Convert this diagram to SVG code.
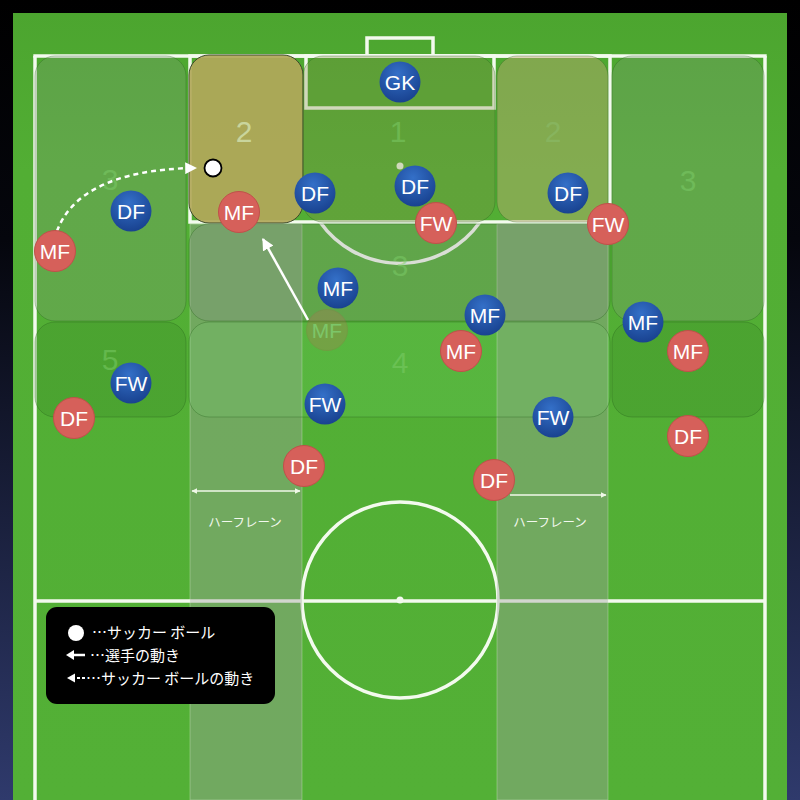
<svg xmlns="http://www.w3.org/2000/svg" width="800" height="800" viewBox="0 0 800 800">
<defs>
<linearGradient id="bg" x1="0" y1="0" x2="0" y2="1">
<stop offset="0" stop-color="#000"/><stop offset="0.3" stop-color="#05060d"/><stop offset="1" stop-color="#2f3a6c"/>
</linearGradient>
<linearGradient id="grass" x1="0" y1="0" x2="0" y2="1">
<stop offset="0" stop-color="#4ca52f"/><stop offset="0.2" stop-color="#52ae34"/><stop offset="1" stop-color="#53b036"/>
</linearGradient>
<radialGradient id="blue" cx="0.45" cy="0.3" r="0.75">
<stop offset="0" stop-color="#3470c8"/><stop offset="1" stop-color="#173f8c"/>
</radialGradient>
<marker id="ah" viewBox="0 0 10 10" refX="9" refY="5" markerWidth="12" markerHeight="12" markerUnits="userSpaceOnUse" orient="auto">
<path d="M0,0 L10,5 L0,10 z" fill="#fff"/>
</marker>
<marker id="ahs" viewBox="0 0 10 10" refX="9" refY="5" markerWidth="6" markerHeight="6" markerUnits="userSpaceOnUse" orient="auto-start-reverse">
<path d="M0,0 L10,5 L0,10 z" fill="#f0f8e8"/>
</marker>
</defs>
<style>
.ln{fill:none;stroke:#f3faee;stroke-width:3.5}
.lane{fill:rgba(160,160,160,0.4);stroke:rgba(220,240,210,0.35);stroke-width:1}
.zone{stroke:rgba(40,100,30,0.35);stroke-width:1}
.zl{font-family:"Liberation Sans",Arial,sans-serif;font-size:30px;text-anchor:middle;fill:rgba(125,205,105,0.5)}
.pb circle{fill:url(#blue)}
.pr circle{fill:#d6605a;stroke:#c0504a;stroke-width:1}
.pt{font-family:"Liberation Sans",Arial,sans-serif;font-size:21px;fill:#fff;text-anchor:middle;dominant-baseline:central}
.hl{font-family:"Noto Sans CJK JP",sans-serif;font-size:12.5px;fill:#f2f8ee;text-anchor:middle}
.lg{font-family:"Noto Sans CJK JP",sans-serif;font-size:15px;fill:#fff}
</style>
<rect width="800" height="800" fill="url(#bg)"/>
<rect x="13" y="13" width="774" height="787" fill="url(#grass)"/>
<g id="pitch-lines">
<line class="ln" x1="35" y1="56" x2="35" y2="800"/>
<line class="ln" x1="765" y1="56" x2="765" y2="800"/>
<line class="ln" x1="33.3" y1="56" x2="766.7" y2="56"/>
<line class="ln" x1="35" y1="601" x2="765" y2="601"/>
<circle class="ln" cx="400" cy="600" r="98"/>
<circle cx="400" cy="600" r="3.5" fill="#f3faee"/>
<rect class="ln" x="190" y="56" width="420" height="166"/>
<rect class="ln" x="306" y="56" width="188" height="52"/>
<rect class="ln" x="367" y="38" width="66" height="18"/>
<path class="ln" d="M320,222 A98,98 0 0 0 480,222"/>
<circle cx="400" cy="166" r="3.5" fill="#f3faee"/>
</g>
<g id="half-lanes">
<rect class="lane" x="190" y="224" width="112" height="576"/>
<rect class="lane" x="497" y="224" width="111" height="576"/>
</g>
<g id="zones">
<g id="zone-3-left"><rect class="zone" x="35" y="56" width="151" height="265" rx="20" fill="rgba(150,150,150,0.22)"/><text class="zl" x="110" y="190">3</text></g>
<g id="zone-2-left"><rect x="189" y="55" width="114" height="168" rx="20" fill="#b1a85a" fill-opacity="0.93" stroke="#3e4a2c" stroke-width="1"/><text class="zl" x="244" y="142" style="fill:#c9d59d">2</text></g>
<g id="zone-1"><rect class="zone" x="303" y="56" width="192" height="166" rx="20" fill="rgba(130,140,70,0.3)"/><text class="zl" x="398" y="142">1</text></g>
<g id="zone-2-right"><rect class="zone" x="497" y="56" width="111" height="166" rx="20" fill="rgba(200,170,120,0.42)"/><text class="zl" x="553" y="142" style="fill:rgba(140,190,110,0.5)">2</text></g>
<g id="zone-3-right"><rect class="zone" x="612" y="56" width="152" height="265" rx="20" fill="rgba(150,150,150,0.22)"/><text class="zl" x="688" y="191">3</text></g>
<g id="zone-3-center"><rect class="zone" x="189" y="224" width="421" height="97" rx="20" fill="rgba(140,140,140,0.25)"/><text class="zl" x="400" y="276">3</text></g>
<g id="zone-5"><rect class="zone" x="35" y="322" width="151" height="95" rx="20" fill="rgba(60,140,40,0.3)"/><text class="zl" x="110" y="370">5</text></g>
<g id="zone-4"><rect class="zone" x="189" y="322" width="421" height="95" rx="20" fill="rgba(120,220,120,0.15)"/><text class="zl" x="400" y="373">4</text></g>
<g id="zone-right-lower"><rect class="zone" x="612" y="322" width="152" height="95" rx="20" fill="rgba(60,140,40,0.3)"/></g>
</g>
<g id="connectors">
<path d="M57,231 C70,196 110,169 196,168" fill="none" stroke="#fff" stroke-width="2.5" stroke-dasharray="5,4" marker-end="url(#ah)"/>
<line x1="308" y1="320" x2="263" y2="239" stroke="#fff" stroke-width="2.5" marker-end="url(#ah)"/>
<line x1="192" y1="491" x2="300" y2="491" stroke="#f0f8e8" stroke-width="1.3" marker-start="url(#ahs)" marker-end="url(#ahs)"/>
<line x1="510" y1="495" x2="606" y2="495" stroke="#f0f8e8" stroke-width="1.3" marker-end="url(#ahs)"/>
</g>
<g id="labels">
<text class="hl" x="245" y="527">ハーフレーン</text>
<text class="hl" x="550" y="527">ハーフレーン</text>
</g>
<g id="ball"><circle cx="213" cy="168" r="8.5" fill="#fff" stroke="#000" stroke-width="1.8"/></g>
<g id="players">
<g id="b-gk" class="pb"><circle cx="400" cy="82" r="20.5"/><text class="pt" x="400" y="82">GK</text></g>
<g id="b-df1" class="pb"><circle cx="131" cy="211" r="20.5"/><text class="pt" x="131" y="211">DF</text></g>
<g id="b-df2" class="pb"><circle cx="315" cy="193" r="20.5"/><text class="pt" x="315" y="193">DF</text></g>
<g id="b-df3" class="pb"><circle cx="415" cy="186" r="20.5"/><text class="pt" x="415" y="186">DF</text></g>
<g id="b-df4" class="pb"><circle cx="568" cy="193" r="20.5"/><text class="pt" x="568" y="193">DF</text></g>
<g id="r-mf-ghost" class="pr" opacity="0.22"><circle cx="327" cy="330" r="20.5"/><text class="pt" x="327" y="330">MF</text></g>
<g id="b-mf1" class="pb"><circle cx="338" cy="288" r="20.5"/><text class="pt" x="338" y="288">MF</text></g>
<g id="b-mf2" class="pb"><circle cx="485" cy="315" r="20.5"/><text class="pt" x="485" y="315">MF</text></g>
<g id="b-mf3" class="pb"><circle cx="643" cy="322" r="20.5"/><text class="pt" x="643" y="322">MF</text></g>
<g id="b-fw1" class="pb"><circle cx="131" cy="383" r="20.5"/><text class="pt" x="131" y="383">FW</text></g>
<g id="b-fw2" class="pb"><circle cx="325" cy="404" r="20.5"/><text class="pt" x="325" y="404">FW</text></g>
<g id="b-fw3" class="pb"><circle cx="553" cy="417" r="20.5"/><text class="pt" x="553" y="417">FW</text></g>
<g id="r-mf1" class="pr"><circle cx="55" cy="251" r="20.5"/><text class="pt" x="55" y="251">MF</text></g>
<g id="r-mf2" class="pr"><circle cx="239" cy="212" r="20.5"/><text class="pt" x="239" y="212">MF</text></g>
<g id="r-fw1" class="pr"><circle cx="436" cy="223" r="20.5"/><text class="pt" x="436" y="223">FW</text></g>
<g id="r-fw2" class="pr"><circle cx="608" cy="224" r="20.5"/><text class="pt" x="608" y="224">FW</text></g>
<g id="r-mf3" class="pr"><circle cx="461" cy="351" r="20.5"/><text class="pt" x="461" y="351">MF</text></g>
<g id="r-mf4" class="pr"><circle cx="688" cy="351" r="20.5"/><text class="pt" x="688" y="351">MF</text></g>
<g id="r-df1" class="pr"><circle cx="74" cy="418" r="20.5"/><text class="pt" x="74" y="418">DF</text></g>
<g id="r-df2" class="pr"><circle cx="304" cy="466" r="20.5"/><text class="pt" x="304" y="466">DF</text></g>
<g id="r-df3" class="pr"><circle cx="494" cy="480" r="20.5"/><text class="pt" x="494" y="480">DF</text></g>
<g id="r-df4" class="pr"><circle cx="688" cy="436" r="20.5"/><text class="pt" x="688" y="436">DF</text></g>
</g>
<g id="legend">
<rect x="46" y="607" width="229" height="97" rx="11" fill="#000"/>
<circle cx="76" cy="633" r="8" fill="#fff"/>
<text class="lg" x="92" y="638">…サッカー ボール</text>
<line x1="72" y1="655" x2="85" y2="655" stroke="#fff" stroke-width="2.5"/>
<path d="M66,655 L74,650 L74,660 z" fill="#fff"/>
<text class="lg" x="90" y="661">…選手の動き</text>
<path d="M67,678 L75,673.5 L75,682.5 z" fill="#fff"/>
<line x1="77" y1="678" x2="87" y2="678" stroke="#fff" stroke-width="2" stroke-dasharray="3,2"/>
<text class="lg" x="86" y="684">…サッカー ボールの動き</text>
</g>
</svg>
